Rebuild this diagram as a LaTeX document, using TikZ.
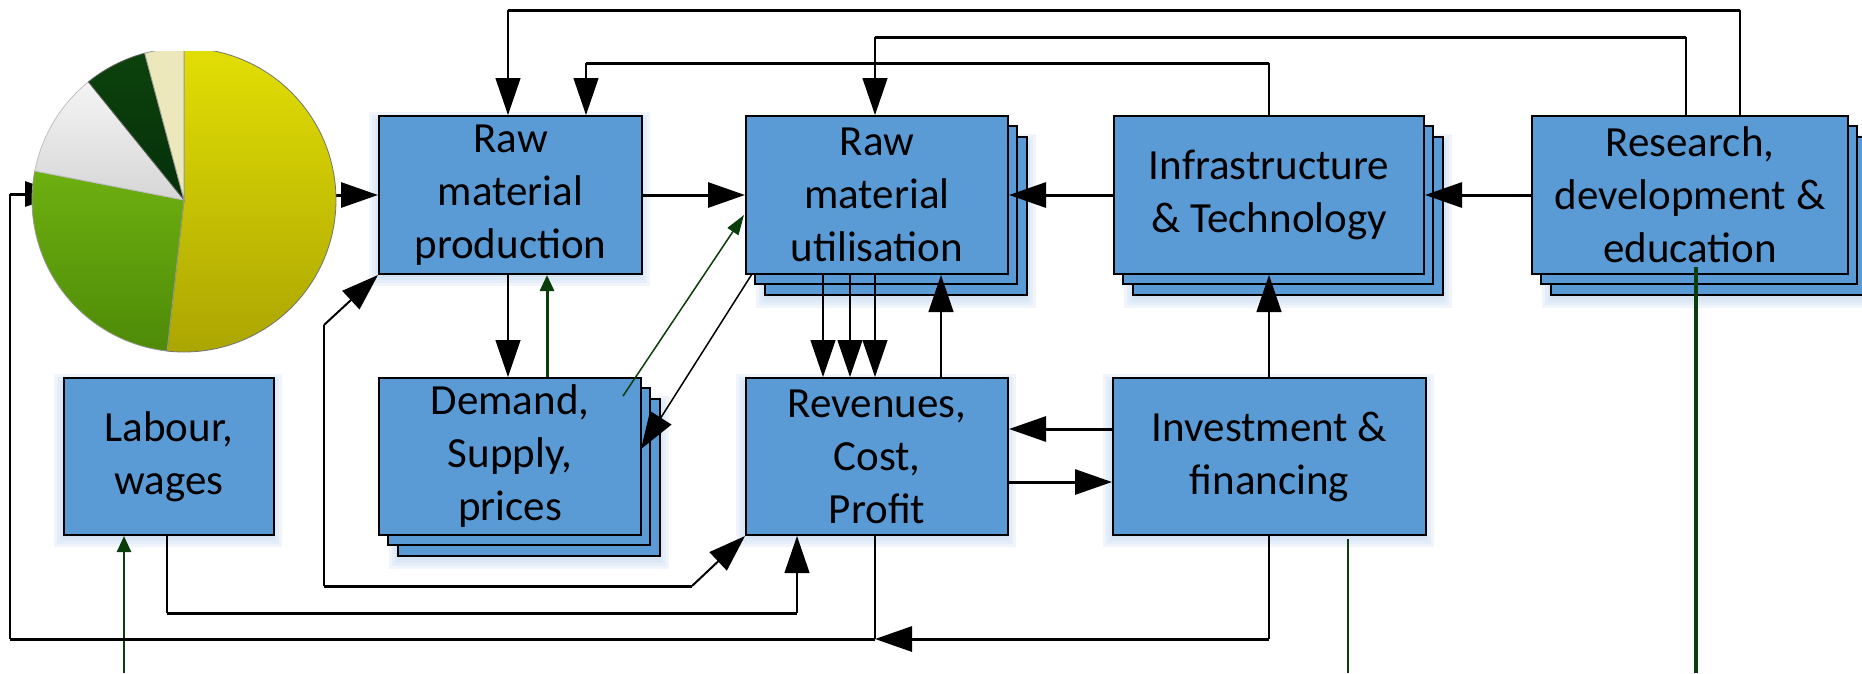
\documentclass[tikz,border=0pt]{standalone}
\usepackage{fontspec}
\setmainfont{Carlito}
\usetikzlibrary{arrows.meta,calc}
\definecolor{boxblue}{HTML}{5B9BD5}
\definecolor{glowblue}{HTML}{BCD3EC}
\definecolor{dgreen}{HTML}{0B3D0B}
\definecolor{pyel1}{HTML}{E2DE04}
\definecolor{pyel2}{HTML}{ABA502}
\definecolor{pgrn1}{HTML}{6DB010}
\definecolor{pgrn2}{HTML}{4E8A08}
\definecolor{pwht1}{HTML}{F4F4F4}
\definecolor{pwht2}{HTML}{D6D6D6}
\definecolor{pdk1}{HTML}{0C420C}
\definecolor{pdk2}{HTML}{05300A}
\definecolor{pbeige}{HTML}{ECE8BC}
\newcommand\myglow[4]{%
  \foreach \ee in {2,5,8,11}{%
    \fill[glowblue,opacity=0.22] (#1-\ee+2,#2-\ee+8) rectangle ++(#3+2*\ee-4,#4+2*\ee-6);
  }%
}
\begin{document}
\begin{tikzpicture}[x=1pt,y=-1pt,
  box/.style={draw=black,line width=2pt,fill=boxblue,align=center,inner sep=0pt,anchor=north west,
    font=\fontsize{43pt}{53pt}\selectfont},
  layer/.style={draw=black,line width=2pt,fill=boxblue},
  thk/.style={line width=3pt},
  thn/.style={line width=1.2pt},
  mid/.style={line width=2pt},
  big/.style={-{Triangle[length=37pt,width=25pt]}},
  small/.style={-{Triangle[length=16pt,width=14pt]}},
  gline/.style={draw=dgreen},
]
\useasboundingbox (0,0) rectangle (1862,673);

% invisible pie anchor
\node[circle,minimum size=304pt,inner sep=0pt] (pie) at (184,200) {};

% soft shadows
\myglow{378}{115}{263}{158}
\myglow{765}{137}{262}{158}
\myglow{1133}{137}{310}{158}
\myglow{1551}{137}{316}{158}
\myglow{63}{377}{210}{157}
\myglow{398}{399}{262}{157}
\myglow{745}{377}{262}{157}
\myglow{1112}{377}{313}{157}

% stacked back layers
\draw[layer] (765,137) rectangle ++(262,158);
\draw[layer] (755,126) rectangle ++(262,158);
\draw[layer] (1133,137) rectangle ++(310,158);
\draw[layer] (1123,126) rectangle ++(310,158);
\draw[layer] (1551,137) rectangle ++(316,158);
\draw[layer] (1541,126) rectangle ++(316,158);
\draw[layer] (398,399) rectangle ++(262,157);
\draw[layer] (388,388) rectangle ++(262,157);

% front boxes
\node[box,minimum width=263pt,minimum height=158pt] (rmp) at (378,115) {Raw\\material\\production};
\node[box,minimum width=262pt,minimum height=158pt] (rmu) at (745,115) {Raw\\material\\utilisation};
\node[box,minimum width=310pt,minimum height=158pt] (inf) at (1113,115) {Infrastructure\\\& Technology};
\node[box,minimum width=316pt,minimum height=158pt] (rd) at (1531,115) {Research,\\development \&\\education};
\node[box,minimum width=210pt,minimum height=157pt] (lab) at (63,377) {Labour,\\wages};
\node[box,minimum width=262pt,minimum height=157pt] (dem) at (378,377) {Demand,\\Supply,\\prices};
\node[box,minimum width=262pt,minimum height=157pt] (rev) at (745,377) {Revenues,\\Cost,\\Profit};
\node[box,minimum width=313pt,minimum height=157pt] (inv) at (1112,377) {Investment \&\\financing};

% top feedback lines
\coordinate (a1) at (1740,10);  \coordinate (a2) at (508,10);
\draw[thn] (rd.north -| a1) -- (a1);
\draw[thk] (a1) -- (a2);
\draw[thn,big] (a2) -- (rmp.north -| a2);

\coordinate (b1) at (1686,37);  \coordinate (b2) at (875,37);
\draw[thn] (rd.north -| b1) -- (b1);
\draw[thk] (b1) -- (b2);
\draw[thn,big] (b2) -- (rmu.north -| b2);

\coordinate (c1) at (1269,63);  \coordinate (c2) at (586,63);
\draw[thn] (inf.north -| c1) -- (c1);
\draw[thk] (c1) -- (c2);
\draw[thn,big] (c2) -- (rmp.north -| c2);

% main row
\draw[thk,big] (pie.east |- rmp.west) -- (rmp.west);
\draw[thk,big] (rmp.east) -- (rmu.west);
\draw[thk,big] (inf.west) -- (rmu.east);
\draw[thk,big] (rd.west) -- (inf.east);

% RMP <-> Demand
\coordinate (d1) at (508,0);
\draw[thn,big] (rmp.south -| d1) -- (dem.north -| d1);
\coordinate (d2) at (547,0);
\draw[gline,thk,small] (dem.north -| d2) -- (rmp.south -| d2);

% Demand -> RMU (green) and RMU -> Demand (black)
\coordinate (g1) at (623,396);
\coordinate (g2) at (744,215);
\draw[gline,line width=1.5pt,-{Triangle[length=20pt,width=13pt]}] (g1) -- (g2);
\coordinate (k1) at (752,274);
\coordinate (k2) at (641,449);
\draw[line width=1.5pt,big] (k1) -- (k2);

% RMU <-> Revenues
\foreach \xx/\nm in {823/e1,850/e2,875/e3}{
  \coordinate (\nm) at (\xx,0);
  \draw[thn,big] (rmu.south -| \nm) -- (rev.north -| \nm);
}
\coordinate (e4) at (941,0);
\draw[thn,big] (rev.north -| e4) -- (rmu.south -| e4);

% Investment -> Infrastructure
\coordinate (f1) at (1269,0);
\draw[thn,big] (inv.north -| f1) -- (inf.south -| f1);

% Investment <-> Revenues
\coordinate (h1) at (0,429);
\coordinate (h2) at (0,482);
\draw[thk,big] (inv.west |- h1) -- (rev.east |- h1);
\draw[thk,big] (rev.east |- h2) -- (inv.west |- h2);

% Labour -> Revenues
\coordinate (l1) at (167,613);
\coordinate (l2) at (797,613);
\draw[thn] (lab.south -| l1) -- (l1);
\draw[thk] (l1) -- (l2);
\draw[thn,big] (l2) -- (rev.south -| l2);

% green input to Labour
\coordinate (gl) at (124,673);
\draw[gline,line width=2.5pt,small] (gl) -- (lab.south -| gl);

% RMP <-> Revenues loop
\coordinate (m1) at (324,325);
\coordinate (m2) at (324,586);
\coordinate (m3) at (692,586);
\draw[mid,big] (m1) -- (rmp.south west);
\draw[thn] (m1) -- (m2);
\draw[thk] (m2) -- (m3);
\draw[mid,big] (m3) -- (rev.south west);

% bottom return line
\coordinate (n1) at (1269,639);
\coordinate (n2) at (875,639);
\coordinate (n3) at (10,639);
\coordinate (n4) at (10,194);
\coordinate (pin) at (62,194);
\draw[thn] (inv.south -| n1) -- (n1);
\draw[thk,big] (n1) -- (n2);
\draw[thn] (rev.south -| n2) -- (n2);
\draw[thk] (n2) -- (n3);
\draw[thn] (n3) -- (n4);
\draw[thk,big] (n4) -- (pin);

% green outgoing lines
\coordinate (p1) at (1348,539);
\coordinate (p2) at (1348,673);
\draw[gline,line width=1.5pt] (p1) -- (p2);
\coordinate (q1) at (1696,267);
\coordinate (q2) at (1696,673);
\draw[gline,line width=3.5pt] (q1) -- (q2);

% pie chart
\begin{scope}
\clip (0,51) rectangle (400,400);
\path[draw=black!55,line width=0.8pt,top color=pyel1,bottom color=pyel2]
  (pie.center) -- ($(pie.center)+(-90:152)$) arc[start angle=-90,end angle=96.4,radius=152] -- cycle;
\path[draw=black!40,line width=0.8pt,top color=pgrn1,bottom color=pgrn2]
  (pie.center) -- ($(pie.center)+(96.4:152)$) arc[start angle=96.4,end angle=191,radius=152] -- cycle;
\path[draw=black!25,line width=0.8pt,top color=pwht1,bottom color=pwht2]
  (pie.center) -- ($(pie.center)+(191:152)$) arc[start angle=191,end angle=231,radius=152] -- cycle;
\path[draw=black!60,line width=0.8pt,top color=pdk1,bottom color=pdk2]
  (pie.center) -- ($(pie.center)+(231:152)$) arc[start angle=231,end angle=255,radius=152] -- cycle;
\path[draw=black!40,line width=0.8pt,fill=pbeige]
  (pie.center) -- ($(pie.center)+(255:152)$) arc[start angle=255,end angle=270,radius=152] -- cycle;
\end{scope}
\end{tikzpicture}
\end{document}
